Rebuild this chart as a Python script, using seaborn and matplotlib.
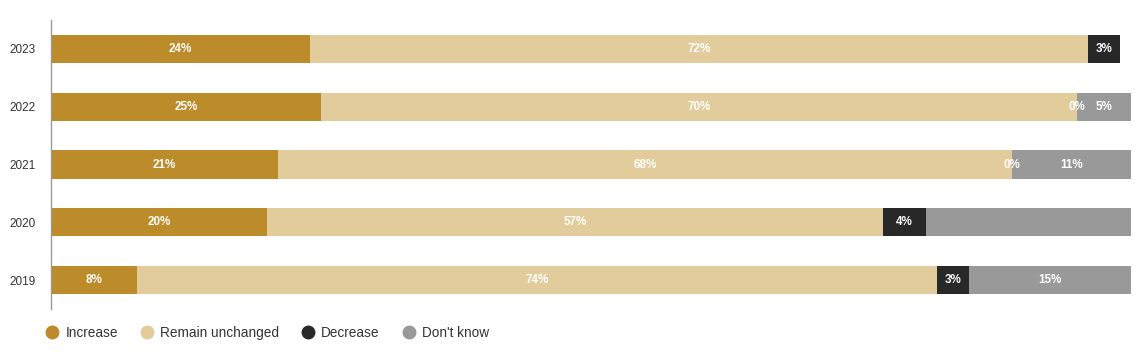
import numpy as np
import pandas as pd
import matplotlib
matplotlib.use('Agg')
import matplotlib.pyplot as plt
from matplotlib.lines import Line2D
import seaborn as sns

years = ['2023', '2022', '2021', '2020', '2019']
categories = ['Increase', 'Remain unchanged', 'Decrease', "Don't know"]
increase = [24, 25, 21, 20, 8]
remain = [72, 70, 68, 57, 74]
decrease = [3, 0, 0, 4, 3]
dont_know = [np.nan, 5, 11, 19, 15]
# 2020 "Don't know" has no label in the original
dont_know_labels = ['', '5%', '11%', '', '15%']

colors = ['#BC8B2A', '#E3CC9B', '#282828', '#999999']

df = pd.DataFrame({'year': years, 'Increase': increase, 'Remain unchanged': remain,
                   'Decrease': decrease, "Don't know": dont_know})

sns.set_style('white')
plt.rcParams['font.family'] = ['Liberation Sans', 'DejaVu Sans']

fig = plt.figure(figsize=(11.4, 3.64), dpi=100)
ax = fig.add_axes([51 / 1140, 1 - 309 / 364, 1080 / 1140, 289 / 364])

vals = df[categories].fillna(0).values
cums = np.cumsum(vals, axis=1)

# draw cumulative bars from the widest down so they stack visually
for i in range(len(categories) - 1, -1, -1):
    plotDf = pd.DataFrame({'year': years, 'value': cums[:, i]})
    sns.barplot(data=plotDf, x='value', y='year', orient='h', color=colors[i],
                width=0.485, saturation=1, ax=ax, errorbar=None, linewidth=0)

# labels
for r in range(len(years)):
    for i, cat in enumerate(categories):
        v = df[cat].iloc[r]
        if pd.isna(v):
            continue
        if cat == "Don't know":
            txt = dont_know_labels[r]
        else:
            txt = f'{int(v)}%'
        if not txt:
            continue
        start = cums[r, i] - vals[r, i]
        ax.text(start + vals[r, i] / 2, r, txt, ha='center', va='center',
                color='white', fontsize=8.4, fontweight='bold')

ax.set_xlim(0, 100)
ax.set_ylim(len(years) - 0.5, -0.5)
ax.set_xlabel('')
ax.set_ylabel('')
ax.set_xticks([])
ax.tick_params(axis='y', length=0, pad=11, labelsize=8.5, labelcolor='#333333')
for s in ['top', 'right', 'bottom']:
    ax.spines[s].set_visible(False)
ax.spines['left'].set_color('#999999')
ax.spines['left'].set_linewidth(1)

handles = [Line2D([0], [0], marker='o', linestyle='', markersize=9,
                  markerfacecolor=c, markeredgecolor=c) for c in colors]
leg = fig.legend(handles, categories, loc='center left', bbox_to_anchor=(32 / 1140, 1 - 333 / 364),
                 ncol=4, frameon=False, fontsize=9.8, handletextpad=0.35, columnspacing=1.55,
                 handlelength=1.2)
for t in leg.get_texts():
    t.set_color('#333333')

fig.savefig('out.png', dpi=100)
